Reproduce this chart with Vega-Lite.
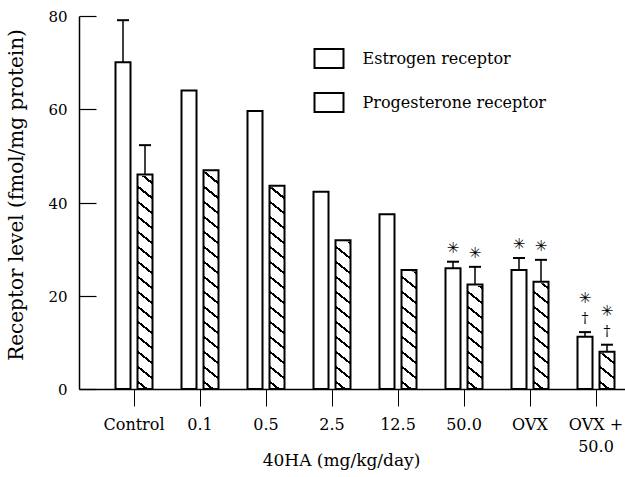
{
  "$schema": "https://vega.github.io/schema/vega-lite/v6.json",
  "width": 550,
  "height": 373,
  "autosize": {"type": "none"},
  "padding": {"left": 79, "top": 16, "right": 0, "bottom": 88},
  "background": "white",
  "config": {"view": {"stroke": null}, "font": "DejaVu Serif"},
  "data": {
    "values": [
      {"dose": "Control", "receptor": "Estrogen receptor", "value": 70.1, "err": 79.1, "sig": null},
      {"dose": "Control", "receptor": "Progesterone receptor", "value": 46.0, "err": 52.3, "sig": null},
      {"dose": "0.1", "receptor": "Estrogen receptor", "value": 64.0, "err": null, "sig": null},
      {"dose": "0.1", "receptor": "Progesterone receptor", "value": 46.9, "err": null, "sig": null},
      {"dose": "0.5", "receptor": "Estrogen receptor", "value": 59.6, "err": null, "sig": null},
      {"dose": "0.5", "receptor": "Progesterone receptor", "value": 43.6, "err": null, "sig": null},
      {"dose": "2.5", "receptor": "Estrogen receptor", "value": 42.3, "err": null, "sig": null},
      {"dose": "2.5", "receptor": "Progesterone receptor", "value": 31.9, "err": null, "sig": null},
      {"dose": "12.5", "receptor": "Estrogen receptor", "value": 37.5, "err": null, "sig": null},
      {"dose": "12.5", "receptor": "Progesterone receptor", "value": 25.5, "err": null, "sig": null},
      {"dose": "50.0", "receptor": "Estrogen receptor", "value": 25.9, "err": 27.3, "sig": "star"},
      {"dose": "50.0", "receptor": "Progesterone receptor", "value": 22.4, "err": 26.2, "sig": "star"},
      {"dose": "OVX", "receptor": "Estrogen receptor", "value": 25.5, "err": 28.1, "sig": "star"},
      {"dose": "OVX", "receptor": "Progesterone receptor", "value": 23.0, "err": 27.7, "sig": "star"},
      {"dose": "OVX + 50.0", "receptor": "Estrogen receptor", "value": 11.2, "err": 12.2, "sig": "stardagger"},
      {"dose": "OVX + 50.0", "receptor": "Progesterone receptor", "value": 8.0, "err": 9.5, "sig": "stardagger"}
    ]
  },
  "encoding": {
    "x": {
      "field": "dose",
      "type": "nominal",
      "sort": ["Control", "0.1", "0.5", "2.5", "12.5", "50.0", "OVX", "OVX + 50.0"],
      "scale": {"paddingInner": 0, "paddingOuter": 0.1667, "align": 1},
      "axis": {
        "title": "40HA (mg/kg/day)",
        "tickSize": 17,
        "tickWidth": 1,
        "tickColor": "black",
        "domainColor": "black",
        "domainWidth": 1.5,
        "labelAngle": 0,
        "labelFont": "DejaVu Serif",
        "labelFontSize": 16,
        "labelColor": "black",
        "labelBaseline": "alphabetic",
        "labelPadding": 23,
        "labelLineHeight": 22.7,
        "labelOverlap": false,
        "labelExpr": "datum.value === 'OVX + 50.0' ? ['OVX +', '50.0'] : datum.label",
        "titleFont": "DejaVu Serif",
        "titleFontSize": 17,
        "titleFontWeight": "normal",
        "titleColor": "black",
        "titleBaseline": "alphabetic",
        "titleAlign": "center",
        "titleX": 262,
        "titleY": 76.7
      }
    },
    "xOffset": {
      "field": "receptor",
      "type": "nominal",
      "scale": {"paddingInner": 0.318, "paddingOuter": 0.659}
    }
  },
  "layer": [
    {
      "transform": [{"filter": "datum.receptor === 'Progesterone receptor'"}],
      "mark": {
        "type": "bar",
        "strokeWidth": 0,
        "fill": {
          "gradient": "linear",
          "x1": 0, "y1": 1, "x2": 0.0322, "y2": 0,
          "stops": [
            {"offset": 0, "color": "white"},
            {"offset": 0.0165, "color": "white"}, {"offset": 0.0165, "color": "black"}, {"offset": 0.0235, "color": "black"}, {"offset": 0.0235, "color": "white"},
            {"offset": 0.0567, "color": "white"}, {"offset": 0.0567, "color": "black"}, {"offset": 0.0637, "color": "black"}, {"offset": 0.0637, "color": "white"},
            {"offset": 0.0969, "color": "white"}, {"offset": 0.0969, "color": "black"}, {"offset": 0.1039, "color": "black"}, {"offset": 0.1039, "color": "white"},
            {"offset": 0.1371, "color": "white"}, {"offset": 0.1371, "color": "black"}, {"offset": 0.1441, "color": "black"}, {"offset": 0.1441, "color": "white"},
            {"offset": 0.1773, "color": "white"}, {"offset": 0.1773, "color": "black"}, {"offset": 0.1843, "color": "black"}, {"offset": 0.1843, "color": "white"},
            {"offset": 0.2175, "color": "white"}, {"offset": 0.2175, "color": "black"}, {"offset": 0.2245, "color": "black"}, {"offset": 0.2245, "color": "white"},
            {"offset": 0.2577, "color": "white"}, {"offset": 0.2577, "color": "black"}, {"offset": 0.2647, "color": "black"}, {"offset": 0.2647, "color": "white"},
            {"offset": 0.2979, "color": "white"}, {"offset": 0.2979, "color": "black"}, {"offset": 0.3049, "color": "black"}, {"offset": 0.3049, "color": "white"},
            {"offset": 0.3381, "color": "white"}, {"offset": 0.3381, "color": "black"}, {"offset": 0.3451, "color": "black"}, {"offset": 0.3451, "color": "white"},
            {"offset": 0.3783, "color": "white"}, {"offset": 0.3783, "color": "black"}, {"offset": 0.3853, "color": "black"}, {"offset": 0.3853, "color": "white"},
            {"offset": 0.4185, "color": "white"}, {"offset": 0.4185, "color": "black"}, {"offset": 0.4255, "color": "black"}, {"offset": 0.4255, "color": "white"},
            {"offset": 0.4587, "color": "white"}, {"offset": 0.4587, "color": "black"}, {"offset": 0.4657, "color": "black"}, {"offset": 0.4657, "color": "white"},
            {"offset": 0.4989, "color": "white"}, {"offset": 0.4989, "color": "black"}, {"offset": 0.5059, "color": "black"}, {"offset": 0.5059, "color": "white"},
            {"offset": 0.5391, "color": "white"}, {"offset": 0.5391, "color": "black"}, {"offset": 0.5461, "color": "black"}, {"offset": 0.5461, "color": "white"},
            {"offset": 0.5793, "color": "white"}, {"offset": 0.5793, "color": "black"}, {"offset": 0.5863, "color": "black"}, {"offset": 0.5863, "color": "white"},
            {"offset": 0.6195, "color": "white"}, {"offset": 0.6195, "color": "black"}, {"offset": 0.6265, "color": "black"}, {"offset": 0.6265, "color": "white"},
            {"offset": 0.6597, "color": "white"}, {"offset": 0.6597, "color": "black"}, {"offset": 0.6667, "color": "black"}, {"offset": 0.6667, "color": "white"},
            {"offset": 1, "color": "white"}
          ]
        }
      },
      "encoding": {
        "y": {"datum": 80, "type": "quantitative", "scale": {"domain": [0, 80], "nice": false, "zero": true}},
        "y2": {"datum": 0}
      }
    },
    {
      "transform": [{"filter": "datum.receptor === 'Progesterone receptor'"}],
      "mark": {"type": "bar", "fill": "white", "stroke": "white", "strokeWidth": 3},
      "encoding": {
        "y": {"field": "value", "type": "quantitative"},
        "y2": {"datum": 80}
      }
    },
    {
      "mark": {"type": "bar", "fill": "transparent", "strokeWidth": 2},
      "encoding": {
        "y": {
          "field": "value",
          "type": "quantitative",
          "scale": {"domain": [0, 80], "nice": false, "zero": true},
          "axis": {
            "values": [0, 20, 40, 60, 80],
            "grid": true,
            "gridColor": "black",
            "gridOpacity": 1,
            "gridWidth": 1.2,
            "gridDash": [17, 2000],
            "ticks": false,
            "domainColor": "black",
            "domainWidth": 1.5,
            "labelPadding": 12,
            "labelFont": "DejaVu Serif",
            "labelFontSize": 15,
            "labelColor": "black",
            "labelBaseline": "alphabetic",
            "labelOffset": 5.5,
            "title": "Receptor level (fmol/mg protein)",
            "titleFont": "DejaVu Serif",
            "titleFontSize": 20,
            "titleFontWeight": "normal",
            "titleColor": "black",
            "titleAngle": -90,
            "titleBaseline": "alphabetic",
            "titleAlign": "center",
            "titleX": -56.3,
            "titleY": 178.5
          }
        },
        "stroke": {
          "field": "receptor",
          "type": "nominal",
          "scale": {"range": ["black", "black"]},
          "legend": {
            "title": null,
            "orient": "none",
            "legendX": 234.5,
            "legendY": 27,
            "padding": 0,
            "symbolType": "M-1,-0.655L1,-0.655L1,0.655L-1,0.655Z",
            "symbolSize": 841,
            "symbolStrokeWidth": 2,
            "symbolStrokeColor": "black",
            "labelFont": "DejaVu Serif",
            "labelFontSize": 16,
            "labelColor": "black",
            "labelOffset": 18,
            "labelLimit": 300,
            "rowPadding": 15,
            "encode": {
              "symbols": {
                "update": {
                  "fill": [
                    {
                      "test": "datum.value === 'Progesterone receptor'",
                      "value": {
                        "gradient": "linear",
                        "x1": 0, "y1": 1, "x2": 1.526, "y2": 0,
                        "stops": [
                          {"offset": 0, "color": "white"},
                          {"offset": 0.032, "color": "white"}, {"offset": 0.032, "color": "black"}, {"offset": 0.072, "color": "black"}, {"offset": 0.072, "color": "white"},
                          {"offset": 0.296, "color": "white"}, {"offset": 0.296, "color": "black"}, {"offset": 0.336, "color": "black"}, {"offset": 0.336, "color": "white"},
                          {"offset": 0.56, "color": "white"}, {"offset": 0.56, "color": "black"}, {"offset": 0.60, "color": "black"}, {"offset": 0.60, "color": "white"},
                          {"offset": 1, "color": "white"}
                        ]
                      }
                    },
                    {"value": "white"}
                  ],
                  "fillOpacity": {"value": 1},
                  "stroke": {"value": "black"},
                  "strokeWidth": {"value": 2}
                }
              }
            }
          }
        }
      }
    },
    {
      "transform": [{"filter": "isValid(datum.err)"}],
      "mark": {"type": "rule", "color": "black", "strokeWidth": 1.5},
      "encoding": {
        "y": {"field": "value", "type": "quantitative"},
        "y2": {"field": "err"}
      }
    },
    {
      "transform": [{"filter": "isValid(datum.err)"}],
      "mark": {"type": "tick", "orient": "horizontal", "color": "black", "size": 12, "thickness": 2, "opacity": 1},
      "encoding": {
        "y": {"field": "err", "type": "quantitative"}
      }
    },
    {
      "transform": [{"filter": "datum.sig === 'star'"}],
      "mark": {"type": "text", "text": "✳", "font": "DejaVu Sans", "fontSize": 15, "baseline": "middle", "dy": -14, "color": "black"},
      "encoding": {
        "y": {"field": "err", "type": "quantitative"}
      }
    },
    {
      "transform": [{"filter": "datum.sig === 'stardagger'"}],
      "mark": {"type": "text", "text": "✳", "font": "DejaVu Sans", "fontSize": 15, "baseline": "middle", "dy": -34, "color": "black"},
      "encoding": {
        "y": {"field": "err", "type": "quantitative"}
      }
    },
    {
      "transform": [{"filter": "datum.sig === 'stardagger'"}],
      "mark": {"type": "text", "text": "†", "font": "DejaVu Serif", "fontSize": 14, "baseline": "middle", "dy": -13, "color": "black"},
      "encoding": {
        "y": {"field": "err", "type": "quantitative"}
      }
    }
  ]
}
